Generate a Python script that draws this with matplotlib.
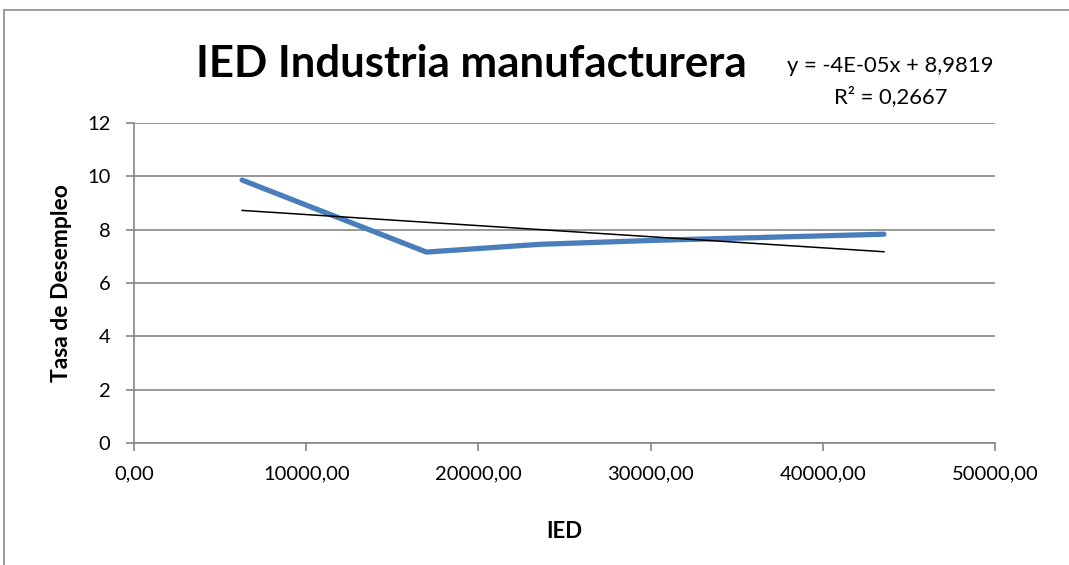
import numpy as np
import matplotlib.pyplot as plt
from matplotlib.patches import Rectangle

# ---------------------------
# Data
# ---------------------------
ied = [6280, 16980, 23550, 30230, 43550]
desempleo = [9.86, 7.16, 7.45, 7.60, 7.83]

x_ticks = [0, 10000, 20000, 30000, 40000, 50000]
x_labels = ["0,00", "10000,00", "20000,00", "30000,00", "40000,00", "50000,00"]
y_ticks = [0, 2, 4, 6, 8, 10, 12]

title = "IED Industria manufacturera"
eq_text = "y = -4E-05x + 8,9819"
r2_text = "R² = 0,2667"

# ---------------------------
# Style
# ---------------------------
plt.rcParams['font.family'] = ['Lato', 'DejaVu Sans']
BLUE = "#4A7EBB"
GRID = "#868686"

W, H = 1069, 565
fig = plt.figure(figsize=(W / 100, H / 100), dpi=100)

# chart-area border (cut off at right and bottom like the screenshot)
fig.patches.append(Rectangle((4 / W, -0.05), 1.1, 1 - 10 / H + 0.05,
                             transform=fig.transFigure, fill=False,
                             edgecolor="#8c8c8c", linewidth=1.2))

ax = fig.add_axes([134 / W, 1 - 443 / H, (995 - 134) / W, (443 - 123) / H])

# line series
ax.plot(ied, desempleo, color=BLUE, linewidth=3.8, solid_capstyle="round",
        solid_joinstyle="round", zorder=3)

# linear trend line
coef = np.polyfit(ied, desempleo, 1)
xt = np.array([min(ied), max(ied)])
ax.plot(xt, np.polyval(coef, xt), color="black", linewidth=1.1, zorder=4)

ax.set_xlim(0, 50000)
ax.set_ylim(0, 12)
ax.set_xticks(x_ticks)
ax.set_xticklabels(x_labels)
ax.set_yticks(y_ticks)

ax.grid(axis="y", color=GRID, linewidth=1.2)
ax.set_axisbelow(True)
for s in ["top", "right"]:
    ax.spines[s].set_visible(False)
for s in ["left", "bottom"]:
    ax.spines[s].set_color(GRID)
    ax.spines[s].set_linewidth(1.2)

ax.tick_params(axis="both", colors=GRID, labelcolor="black", labelsize=14.5,
               length=6, width=1.2)
ax.tick_params(axis="x", pad=10)
ax.tick_params(axis="y", pad=11)

ax.set_xlabel("IED", fontsize=16, fontweight="bold", labelpad=28)
ax.set_ylabel("Tasa de Desempleo", fontsize=16.5, fontweight="bold", labelpad=11)

fig.text(471 / W, 1 - 77 / H, title, fontsize=31.5, fontweight="bold",
         ha="center", va="baseline")
fig.text(890 / W, 1 - 72 / H, eq_text, fontsize=15.8, ha="center", va="baseline")
fig.text(891 / W, 1 - 103 / H, r2_text, fontsize=15.8, ha="center", va="baseline")

fig.savefig("out.png", dpi=100)
